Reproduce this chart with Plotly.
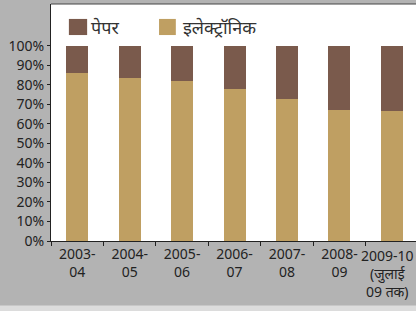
import plotly.graph_objects as go

categories = ["2003-<br>04", "2004-<br>05", "2005-<br>06", "2006-<br>07", "2007-<br>08", "2008-<br>09", "2009-10<br>(जुलाई<br>09 तक)"]
electronic = [86, 83.5, 82, 78, 73, 67, 66.5]
paper = [100 - v for v in electronic]
y_ticks = [0, 10, 20, 30, 40, 50, 60, 70, 80, 90, 100]
y_tick_labels = [f"{v}%" for v in y_ticks]
legend_names = ["पेपर", "इलेक्ट्रॉनिक"]

font_family = "Noto Sans, DejaVu Sans, sans-serif"
c_elec = "#bf9f62"
c_paper = "#7a5a4c"
c_text = "#222222"

fig = go.Figure()
fig.add_trace(go.Bar(x=categories, y=electronic, name=legend_names[1],
                     marker=dict(color=c_elec, line=dict(width=0)), showlegend=False))
fig.add_trace(go.Bar(x=categories, y=paper, name=legend_names[0],
                     marker=dict(color=c_paper, line=dict(width=0)), showlegend=False))

# last category label is drawn as an annotation (shifted left to fit, like the original)
x_ticktext = categories[:-1] + [""]

shapes = [
    dict(type="line", xref="paper", yref="paper", x0=0, x1=1, y0=1, y1=1,
         line=dict(color="#444444", width=1)),
    dict(type="rect", xref="paper", yref="paper", x0=-0.2, x1=1.1,
         y0=-0.272, y1=-0.30, fillcolor="#dcdcdc", line=dict(width=0)),
    dict(type="rect", xref="paper", yref="paper", x0=0.049, x1=0.099,
         y0=0.869, y1=0.937, fillcolor=c_paper, line=dict(width=0)),
    dict(type="rect", xref="paper", yref="paper", x0=0.296, x1=0.342,
         y0=0.869, y1=0.937, fillcolor=c_elec, line=dict(width=0)),
]
annotations = [
    dict(xref="paper", yref="paper", x=0.104, y=0.903, xanchor="left", yanchor="middle",
         text=legend_names[0], showarrow=False, font=dict(size=18, color="#333333")),
    dict(xref="paper", yref="paper", x=0.356, y=0.903, xanchor="left", yanchor="middle",
         text=legend_names[1], showarrow=False, font=dict(size=18, color="#333333")),
    dict(xref="x", yref="paper", x=categories[-1], y=0, xanchor="center", yanchor="top",
         xshift=-4, yshift=-3, text=categories[-1], showarrow=False, align="center",
         font=dict(size=14, color=c_text)),
]

fig.update_layout(
    width=416, height=311,
    barmode="stack", bargap=0.58,
    paper_bgcolor="#b3b3b3", plot_bgcolor="white",
    margin=dict(l=51, r=0, t=4, b=70, autoexpand=False),
    font=dict(family=font_family, size=14, color=c_text),
    showlegend=False,
    xaxis=dict(range=[-0.5, 6.46], showline=True, linecolor=c_text, linewidth=1,
               tickmode="array", tickvals=categories, ticktext=x_ticktext,
               ticks="outside", ticklen=4, tickcolor=c_text, automargin=False,
               tickson="boundaries", showgrid=False, tickangle=0,
               tickfont=dict(size=14, color=c_text)),
    yaxis=dict(range=[0, 121.5], tickvals=y_ticks, ticktext=y_tick_labels,
               showline=True, linecolor=c_text, linewidth=1, automargin=False,
               ticks="outside", ticklen=3, tickcolor=c_text,
               showgrid=False, zeroline=False,
               tickfont=dict(size=14, color=c_text)),
    shapes=shapes,
    annotations=annotations,
)

fig.write_html("out.html", config={"displayModeBar": False},
               post_script="document.body.style.margin='0';document.body.style.overflow='hidden';")
